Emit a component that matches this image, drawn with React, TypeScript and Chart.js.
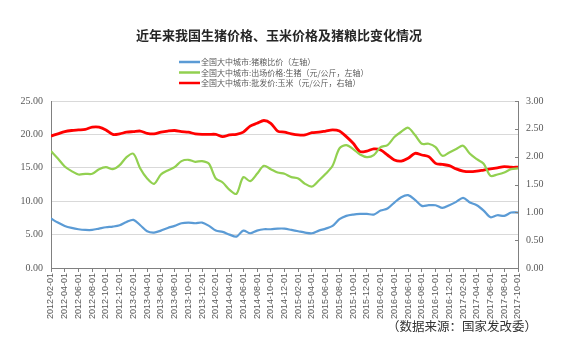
import React, { useEffect, useRef } from "react";
import { Chart, registerables } from "chart.js";

Chart.register(...registerables);

const TITLE = "近年来我国生猪价格、玉米价格及猪粮比变化情况";
const SOURCE = "（数据来源：国家发改委）";
const SERIES_NAMES = [
  "全国大中城市:猪粮比价（左轴）",
  "全国大中城市:出场价格:生猪（元/公斤，左轴）",
  "全国大中城市:批发价:玉米（元/公斤，右轴）",
];

// month index 0 = 2012-02-01 ... 68 = 2017-10-01
const START_YEAR = 2012;
const START_MONTH = 2;

const hogGrainRatio = [
  7.4, 6.8, 6.3, 6.0, 5.8, 5.7, 5.7, 5.9, 6.1, 6.2, 6.4, 6.9, 7.2, 6.4, 5.5, 5.3, 5.6, 6.0, 6.3, 6.7,
  6.8, 6.7, 6.8, 6.3, 5.6, 5.4, 5.0, 4.7, 5.6, 5.2, 5.6, 5.8, 5.8, 5.9, 5.9, 5.7, 5.5, 5.3, 5.2, 5.6,
  5.9, 6.3, 7.3, 7.8, 8.0, 8.1, 8.1, 8.0, 8.6, 8.9, 9.8, 10.6, 10.9, 10.2, 9.3, 9.4, 9.4, 9.0, 9.4, 9.9,
  10.5, 9.8, 9.4, 8.6, 7.6, 7.9, 7.8, 8.3, 8.3,
];

const hogPrice = [
  17.5, 16.4, 15.2, 14.5, 14.0, 14.1, 14.1, 14.8, 15.1, 14.8, 15.4, 16.6, 17.1, 14.9, 13.4, 12.6, 14.0, 14.6, 15.1, 16.0,
  16.2, 15.9, 16.0, 15.6, 13.4, 12.8, 11.7, 11.1, 13.6, 13.0, 14.1, 15.3, 14.8, 14.3, 14.1, 13.6, 13.4, 12.6, 12.2, 13.1,
  14.1, 15.3, 17.9, 18.4, 17.8, 17.0, 16.6, 16.9, 18.1, 18.4, 19.6, 20.4, 21.0, 19.9, 18.6, 18.6, 18.1, 16.8, 17.3, 17.8,
  18.3, 17.1, 16.3, 15.6, 13.8, 14.0, 14.3, 14.8, 14.9,
];

const cornPrice = [
  2.37, 2.41, 2.45, 2.47, 2.48, 2.49, 2.53, 2.53, 2.48, 2.40, 2.41, 2.44, 2.45, 2.46, 2.42, 2.41, 2.44, 2.46, 2.47, 2.45,
  2.44, 2.41, 2.40, 2.40, 2.40, 2.36, 2.39, 2.40, 2.44, 2.55, 2.60, 2.65, 2.60, 2.46, 2.44, 2.41, 2.39, 2.39, 2.43, 2.44,
  2.46, 2.48, 2.46, 2.36, 2.24, 2.09, 2.10, 2.14, 2.12, 2.03, 1.94, 1.92, 1.97, 2.06, 2.03, 2.00, 1.88, 1.86, 1.84, 1.78,
  1.74, 1.73, 1.74, 1.76, 1.78, 1.80, 1.82, 1.81, 1.81,
];

const COLORS = ["#5b9bd5", "#92d050", "#ff0000"];

function monthLabel(i: number): string {
  const t = START_MONTH - 1 + i;
  const y = START_YEAR + Math.floor(t / 12);
  const m = (t % 12) + 1;
  return `${y}-${m < 10 ? "0" + m : m}-01`;
}

const toPoints = (arr: number[]) => arr.map((v, i) => ({ x: i, y: v }));

const decorPlugin = {
  id: "decor",
  afterDraw(chart: any) {
    const ctx = chart.ctx;
    ctx.save();
    // title
    ctx.fillStyle = "#262626";
    ctx.font = 'bold 13px "Noto Sans CJK SC"';
    ctx.textAlign = "center";
    ctx.textBaseline = "middle";
    ctx.fillText(TITLE, 279, 35);
    // legend
    ctx.font = '8px "Noto Sans CJK SC"';
    ctx.textAlign = "left";
    const rows = [62, 72.5, 83];
    SERIES_NAMES.forEach((name, i) => {
      ctx.strokeStyle = COLORS[i];
      ctx.lineWidth = 2.5;
      ctx.beginPath();
      ctx.moveTo(179, rows[i]);
      ctx.lineTo(200, rows[i]);
      ctx.stroke();
      ctx.fillStyle = "#595959";
      ctx.fillText(name, 201, rows[i]);
    });
    // source
    ctx.fillStyle = "#333333";
    ctx.font = '12.5px "Noto Sans CJK SC"';
    ctx.textAlign = "right";
    ctx.fillText(SOURCE, 537, 326);
    // right axis inward ticks
    const y1 = chart.scales.y1;
    ctx.strokeStyle = "#808080";
    ctx.lineWidth = 1;
    y1.ticks.forEach((t: any) => {
      const py = Math.round(y1.getPixelForValue(t.value)) + 0.5;
      ctx.beginPath();
      ctx.moveTo(chart.chartArea.right - 3, py);
      ctx.lineTo(chart.chartArea.right, py);
      ctx.stroke();
    });
    ctx.restore();
  },
};

export default function App() {
  const ref = useRef<HTMLCanvasElement>(null);
  useEffect(() => {
    if (!ref.current) return;
    const chart = new Chart(ref.current, {
      type: "line",
      data: {
        datasets: [
          {
            label: SERIES_NAMES[0],
            data: toPoints(hogGrainRatio),
            borderColor: COLORS[0],
            borderWidth: 2.2,
            pointRadius: 0,
            tension: 0.3,
            yAxisID: "y",
          },
          {
            label: SERIES_NAMES[1],
            data: toPoints(hogPrice),
            borderColor: COLORS[1],
            borderWidth: 2.2,
            pointRadius: 0,
            tension: 0.3,
            yAxisID: "y",
          },
          {
            label: SERIES_NAMES[2],
            data: toPoints(cornPrice),
            borderColor: COLORS[2],
            borderWidth: 2.8,
            pointRadius: 0,
            tension: 0.3,
            yAxisID: "y1",
          },
        ],
      },
      options: {
        animation: false,
        responsive: false,
        layout: { padding: { top: 101, left: 0, right: 0, bottom: 0 } },
        plugins: {
          legend: { display: false },
          title: { display: false },
          tooltip: { enabled: false },
        },
        scales: {
          x: {
            type: "linear",
            min: 0,
            max: 68,
            afterFit: (s: any) => {
              s.height = 93;
            },
            border: { display: true, color: "#808080" },
            grid: { drawOnChartArea: false, drawTicks: true, tickLength: 4, color: "#808080" },
            ticks: {
              stepSize: 2,
              autoSkip: false,
              minRotation: 90,
              maxRotation: 90,
              padding: 1,
              color: "#595959",
              font: { family: "Liberation Sans", size: 9 },
              callback: (v: any) => monthLabel(Number(v)),
            },
          },
          y: {
            position: "left",
            min: 0,
            max: 25,
            afterFit: (s: any) => {
              s.width = 51;
            },
            border: { display: true, color: "#808080" },
            grid: { color: "#d9d9d9", drawTicks: false },
            ticks: {
              stepSize: 5,
              padding: 8,
              color: "#595959",
              font: { family: "Liberation Serif", size: 10 },
              callback: (v: any) => Number(v).toFixed(2),
            },
          },
          y1: {
            position: "right",
            min: 0,
            max: 3,
            afterFit: (s: any) => {
              s.width = 60;
            },
            border: { display: true, color: "#808080" },
            grid: { drawOnChartArea: false, drawTicks: false },
            ticks: {
              stepSize: 0.5,
              padding: 8,
              color: "#595959",
              font: { family: "Liberation Serif", size: 10 },
              callback: (v: any) => Number(v).toFixed(2),
            },
          },
        },
      },
      plugins: [decorPlugin],
    } as any);
    return () => chart.destroy();
  }, []);
  return (
    <div style={{ position: "absolute", left: 0, top: 0, width: 578, height: 361, background: "#fff" }}>
      <canvas ref={ref} width={578} height={361} />
    </div>
  );
}
